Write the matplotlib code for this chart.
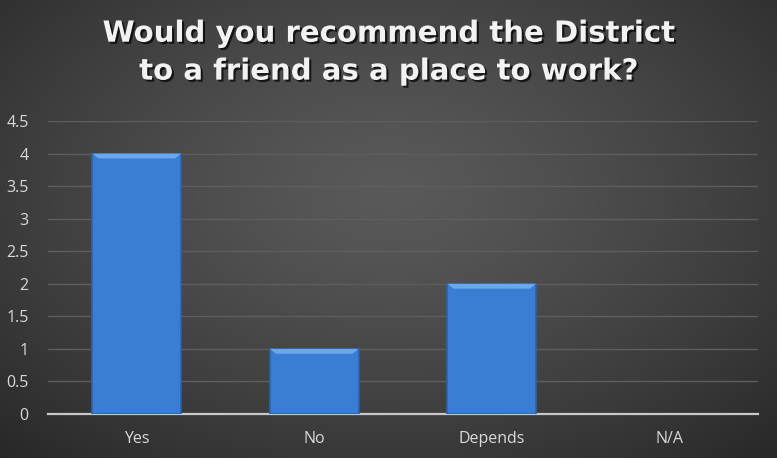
import numpy as np
import matplotlib
matplotlib.use("Agg")
from matplotlib import pyplot as plt
from matplotlib import patheffects as pe
from matplotlib.patches import Polygon

categories = ["Yes", "No", "Depends", "N/A"]
counts = [4, 1, 2, 0]
yticks = [0, 0.5, 1, 1.5, 2, 2.5, 3, 3.5, 4, 4.5]
title = "Would you recommend the District\nto a friend as a place to work?"

fig = plt.figure(figsize=(7.77, 4.58), dpi=100)

# radial dark gradient behind everything
bg = fig.add_axes([0, 0, 1, 1], zorder=-10)
h, w = 458, 777
yy, xx = np.mgrid[0:h, 0:w]
r = np.sqrt(((xx - 390) / 560.0) ** 2 + ((yy - 190) / 360.0) ** 2)
shade = np.clip(0.35 - 0.19 * r ** 1.3, 0.13, 0.35)
bg.imshow(np.dstack([shade] * 3), aspect="auto", extent=[0, 1, 0, 1])
bg.axis("off")

ax = fig.add_axes([0.0618, 0.0961, 0.9137, 0.6397])
ax.set_facecolor("none")
x = np.arange(len(categories))
bars = ax.bar(x, counts, width=0.5, color="#3a7ed4", edgecolor="#2b62ad",
              linewidth=1.2, zorder=3)

# bevel highlight along the top of each bar
for b in bars:
    if b.get_height() <= 0:
        b.set_linewidth(0)
        continue
    x0, bw, top = b.get_x(), b.get_width(), b.get_height()
    d = 0.075
    band = Polygon([(x0, top), (x0 + bw, top), (x0 + bw - 0.035, top - d),
                    (x0 + 0.035, top - d)], closed=True,
                   facecolor="#69a8ee", edgecolor="none", zorder=4)
    ax.add_patch(band)

ax.set_xlim(-0.5, len(categories) - 0.5)
ax.set_ylim(0, 4.5)
ax.set_yticks(yticks)
ax.set_yticklabels([f"{t:g}" for t in yticks])
ax.set_xticks(x)
ax.set_xticklabels(categories)
ax.yaxis.grid(True, color="#5e5e5e", linewidth=1.0, zorder=0)
ax.set_axisbelow(True)
for s in ["top", "right", "left"]:
    ax.spines[s].set_visible(False)
ax.spines["bottom"].set_color("#c8c8c8")
ax.spines["bottom"].set_linewidth(1.6)
ax.tick_params(axis="y", length=0, labelsize=11.5, pad=14)
ax.tick_params(axis="x", length=0, labelsize=11.5, pad=12)
for lbl in ax.get_xticklabels() + ax.get_yticklabels():
    lbl.set_fontfamily("Open Sans")
    lbl.set_color("#d9d9d9")

fig.text(0.5, 0.885, title, ha="center", va="center", color="#f2f2f2",
         fontsize=21, fontweight="bold", family="DejaVu Sans",
         linespacing=1.45,
         path_effects=[pe.withSimplePatchShadow(offset=(1.5, -1.5),
                                                shadow_rgbFace="black",
                                                alpha=0.7)])

fig.savefig("out.png", dpi=100)
